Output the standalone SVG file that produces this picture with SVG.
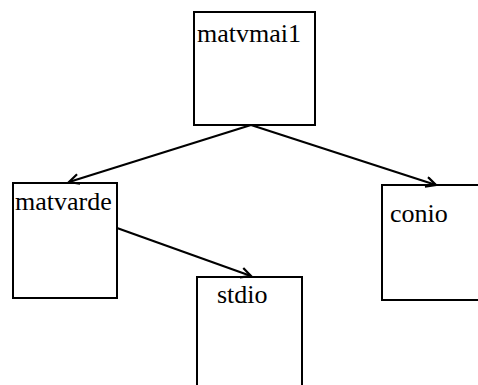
<svg xmlns="http://www.w3.org/2000/svg" width="478" height="385" viewBox="0 0 478 385">
<style>
.box{fill:#fff;stroke:#000;stroke-width:2}
text{font-family:'Liberation Serif',serif;font-size:26px;fill:#000}
.edge{stroke:#000;stroke-width:2.2;fill:none;marker-end:url(#arr)}
</style>
<defs>
<marker id="arr" markerWidth="14" markerHeight="14" refX="11" refY="6" orient="auto" markerUnits="userSpaceOnUse">
<path d="M1,1 L11,6 L1,11" fill="none" stroke="#000" stroke-width="2.2"/>
</marker>
</defs>
<rect width="478" height="385" fill="#fff"/>
<g id="matvmai1"><rect class="box" x="194" y="12" width="121" height="113"/><text x="197" y="42" font-family="Liberation Serif, serif">matvmai1</text></g>
<g id="matvarde"><rect class="box" x="13" y="183" width="104" height="115"/><text x="15" y="210" font-family="Liberation Serif, serif">matvarde</text></g>
<g id="stdio"><rect class="box" x="197" y="277" width="105" height="115"/><text x="217" y="303" font-family="Liberation Serif, serif">stdio</text></g>
<g id="conio"><rect class="box" x="382" y="185" width="100" height="115"/><text x="390" y="222" font-family="Liberation Serif, serif">conio</text></g>
<g id="connectors">
<line class="edge" x1="251" y1="125" x2="69" y2="182"/>
<line class="edge" x1="251" y1="125" x2="436" y2="185"/>
<line class="edge" x1="117" y1="228" x2="251" y2="276"/>
</g>
</svg>
